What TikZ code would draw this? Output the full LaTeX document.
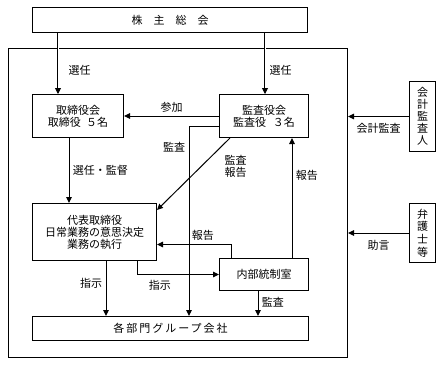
\documentclass[tikz,border=0pt]{standalone}
\usepackage{fontspec}
\setmainfont{Noto Sans CJK JP}
\newfontfamily\spacedfont[LetterSpace=18]{Noto Sans CJK JP}
\usetikzlibrary{arrows.meta,calc}
\begin{document}
\begin{tikzpicture}[x=1pt,y=-1pt,
  box/.style={draw,line width=1pt,anchor=north west,inner sep=0pt,align=center,
    font=\fontsize{11}{12}\selectfont},
  lbl/.style={font=\fontsize{11}{12}\selectfont,align=center},
  arr/.style={line width=1pt,-{Triangle[length=6pt,width=5.5pt]}},
  dbl/.style={double,double distance=0.9pt,line width=0.9pt,-{Triangle[length=6pt,width=6pt]}}]
\useasboundingbox (0,0) rectangle (441,365);
\node[box,minimum width=275pt,minimum height=25pt] (sokai) at (32,7) {株　主　総　会};
\node[box,minimum width=339pt,minimum height=309pt] (waku) at (8,48) {};
\node[box,minimum width=91pt,minimum height=43pt] (tori) at (32,94) {取締役会\\取締役\hspace{.5em}５名};
\node[box,minimum width=89pt,minimum height=43pt] (kansa) at (219,94) {監査役会\\監査役\hspace{.6em}３名};
\node[box,minimum width=26pt,minimum height=70pt] (kaikei) at (409,81) {会\\計\\監\\査\\人};
\node[box,minimum width=26pt,minimum height=59pt,font=\fontsize{11}{12.7}\selectfont] (bengo) at (409,203) {弁\\護\\士\\等};
\node[box,minimum width=124pt,minimum height=57pt] (daihyo) at (32,203) {代表取締役\\日常業務の意思決定\\業務の執行};
\node[box,minimum width=89pt,minimum height=32pt] (naibu) at (219,258) {内部統制室};
\node[box,minimum width=276pt,minimum height=24pt] (kakubu) at (32,316) {\spacedfont 各部門グループ会社};
\draw[dbl] ([xshift=26pt]tori.north west |- sokai.south) -- ([xshift=26pt]tori.north west);
\draw[dbl] ([xshift=46pt]kansa.north west |- sokai.south) -- ([xshift=46pt]kansa.north west);
\node[lbl,anchor=west] at (65,70) {選任};
\node[lbl,anchor=west] at (266,70) {選任};
\draw[arr] (kansa.west) -- (tori.east) node[lbl,midway,above] {参加};
\draw[arr] (kaikei.west) -- (kaikei.west -| waku.east) node[lbl,midway,below=3pt] {会計監査};
\draw[arr] (bengo.west) -- (bengo.west -| waku.east) node[lbl,midway,below=3pt] {助言};
\draw[arr] ([xshift=37pt]tori.south west) -- ([xshift=37pt]daihyo.north west) node[lbl,midway,right] {選任・監督};
\draw[arr] ([xshift=11pt]kansa.south west) -- ([yshift=-7pt]daihyo.north east) node[lbl,pos=0.4,right=20pt] {監査\\報告};
\draw[arr] ([yshift=-10pt]kansa.west) -| ([xshift=157pt]kakubu.north west) node[lbl,pos=0.555,left] {監査};
\draw[arr] ([xshift=73pt]naibu.north west) -- ([xshift=73pt]kansa.south west) node[lbl,pos=0.69,right] {報告};
\draw[arr] ([xshift=12pt]naibu.north west) |- ([yshift=-12.5pt]daihyo.east) node[lbl,pos=0.69,above] {報告};
\draw[arr] ([xshift=105pt]daihyo.south west) |- (naibu.west) node[lbl,pos=0.64,below=2pt] {指示};
\draw[arr] ([xshift=74pt]daihyo.south west) -- ([xshift=74pt]kakubu.north west) node[lbl,pos=0.4,left] {指示};
\draw[arr] ([xshift=39pt]naibu.south west) -- ([xshift=226pt]kakubu.north west) node[lbl,pos=0.46,right] {監査};
\end{tikzpicture}
\end{document}
